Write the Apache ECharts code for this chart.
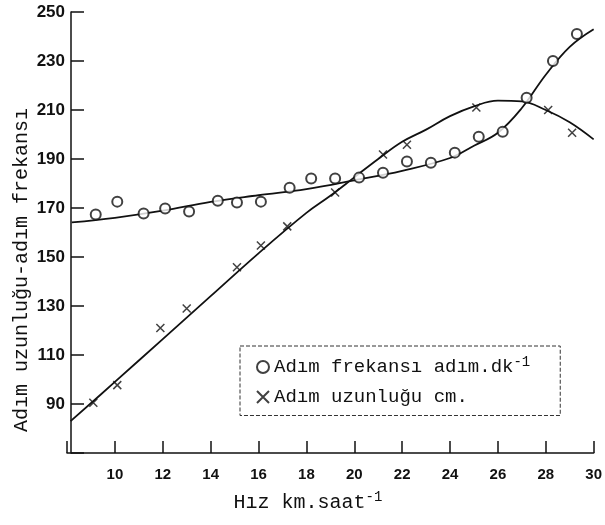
<!DOCTYPE html>
<html>
<head>
<meta charset="utf-8">
<script src="https://cdn.jsdelivr.net/npm/echarts@6/dist/echarts.min.js"></script>
<style>
  html, body { margin: 0; padding: 0; background: #fff; }
  #chart { width: 605px; height: 525px; }
</style>
</head>
<body>
<div id="chart"></div>
<script>
// hız (km/saat) ve ölçülen değerler
const freqSpeed = [9.2, 10.1, 11.2, 12.1, 13.1, 14.3, 15.1, 16.1, 17.3, 18.2, 19.2, 20.2, 21.2, 22.2, 23.2, 24.2, 25.2, 26.2, 27.2, 28.3, 29.3];
const freqValues = [167.3, 172.6, 167.8, 169.8, 168.6, 173, 172.2, 172.6, 178.3, 182, 182, 182.4, 184.4, 189, 188.5, 192.6, 199.1, 201.1, 215, 230, 241];

const strideSpeed = [9.1, 10.1, 11.9, 13, 15.1, 16.1, 17.2, 19.2, 21.2, 22.2, 25.1, 28.1, 29.1];
const strideValues = [90.5, 97.7, 121, 129, 145.8, 154.7, 162.5, 176.3, 191.8, 195.8, 211, 210, 200.7];

// elle çizilmiş eğriler (resimden okunan noktalar)
const freqCurveSpeed = [8.2, 10, 12, 14, 16, 18, 20, 22, 24, 25, 26, 27, 28, 29, 30];
const freqCurveValues = [164.1, 166, 168.9, 172.5, 175.2, 177.7, 181.3, 185.2, 190.4, 195.4, 200.7, 210.8, 224.4, 235.8, 243];

const strideCurveSpeed = [8.15, 10, 12, 14, 16, 18, 19, 20, 21, 22, 23, 24, 25, 26, 27, 28, 29, 30];
const strideCurveValues = [83, 99, 116.5, 134, 151.5, 168, 175, 182.5, 190, 197, 202, 207.5, 211.5, 213.8, 213.5, 210, 205, 198];

const xTickLabels = ["10", "12", "14", "16", "18", "20", "22", "24", "26", "28", "30"];
const yTickLabels = ["90", "110", "130", "150", "170", "190", "210", "230", "250"];

const freqName = "Adım frekansı adım.dk";
const strideName = "Adım uzunluğu cm.";

function pairs(xs, ys) {
  return xs.map((x, i) => [x, ys[i]]);
}

const mono = "Liberation Mono";
const ink = "#111";
const xMark = "path://M0 0L10 10M10 0L0 10";

const chart = echarts.init(document.getElementById("chart"));

chart.setOption({
  animation: false,
  backgroundColor: "#fff",
  grid: { left: 67, right: 8, top: 12, bottom: 72 },
  xAxis: {
    type: "value",
    min: 8,
    max: 30,
    interval: 2,
    splitLine: { show: false },
    axisLine: { lineStyle: { color: ink, width: 1.5 } },
    axisTick: { inside: true, length: 12, lineStyle: { color: ink, width: 1.5 } },
    axisLabel: {
      margin: 14,
      color: ink,
      fontFamily: "Liberation Sans",
      fontWeight: "bold",
      fontSize: 15,
      formatter: v => (xTickLabels.includes(String(v)) ? String(v) : "")
    }
  },
  yAxis: {
    type: "value",
    min: 70,
    max: 250,
    interval: 20,
    offset: -4,
    splitLine: { show: false },
    axisLine: { lineStyle: { color: ink, width: 1.5 } },
    axisTick: { inside: true, length: 13, lineStyle: { color: ink, width: 1.5 } },
    axisLabel: {
      margin: 6,
      color: ink,
      fontFamily: "Liberation Sans",
      fontWeight: "bold",
      fontSize: 17,
      formatter: v => (yTickLabels.includes(String(v)) ? String(v) : "")
    }
  },
  legend: {
    data: [freqName, strideName],
    orient: "vertical",
    left: 240,
    top: 346,
    padding: [9, 30, 9, 16],
    itemGap: 11,
    itemWidth: 12,
    itemHeight: 12,
    borderColor: "#333",
    borderWidth: 1,
    borderType: "dashed",
    textStyle: {
      fontFamily: mono,
      fontSize: 19,
      color: ink,
      rich: {
        s: { fontFamily: mono, fontSize: 14, color: ink, padding: [0, 0, 10, 0] }
      }
    },
    formatter: name => (name === freqName ? name + "{s|-1}" : name)
  },
  graphic: [
    {
      type: "text",
      x: 22,
      y: 270,
      rotation: Math.PI / 2,
      style: {
        text: "Adım uzunluğu-adım frekansı",
        font: "20px 'Liberation Mono'",
        fill: ink,
        textAlign: "center",
        textVerticalAlign: "middle"
      }
    },
    {
      type: "text",
      x: 308,
      y: 503,
      style: {
        text: "Hız km.saat{s|-1}",
        font: "20px 'Liberation Mono'",
        fill: ink,
        textAlign: "center",
        textVerticalAlign: "middle",
        rich: { s: { font: "14px 'Liberation Mono'", fill: ink, padding: [0, 0, 12, 0] } }
      }
    }
  ],
  series: [
    {
      name: "freqCurve",
      type: "line",
      data: pairs(freqCurveSpeed, freqCurveValues),
      smooth: 0.4,
      showSymbol: false,
      lineStyle: { color: ink, width: 1.8 },
      z: 2
    },
    {
      name: "strideCurve",
      type: "line",
      data: pairs(strideCurveSpeed, strideCurveValues),
      smooth: 0.4,
      showSymbol: false,
      lineStyle: { color: ink, width: 1.8 },
      z: 2
    },
    {
      name: freqName,
      type: "scatter",
      data: pairs(freqSpeed, freqValues),
      symbol: "emptyCircle",
      symbolSize: 10,
      itemStyle: { color: ink, borderColor: ink, borderWidth: 2 },
      z: 3
    },
    {
      name: strideName,
      type: "scatter",
      data: pairs(strideSpeed, strideValues),
      symbol: xMark,
      symbolSize: 8,
      itemStyle: { color: ink, borderColor: ink, borderWidth: 1.5 },
      z: 3
    }
  ]
});
</script>
</body>
</html>
